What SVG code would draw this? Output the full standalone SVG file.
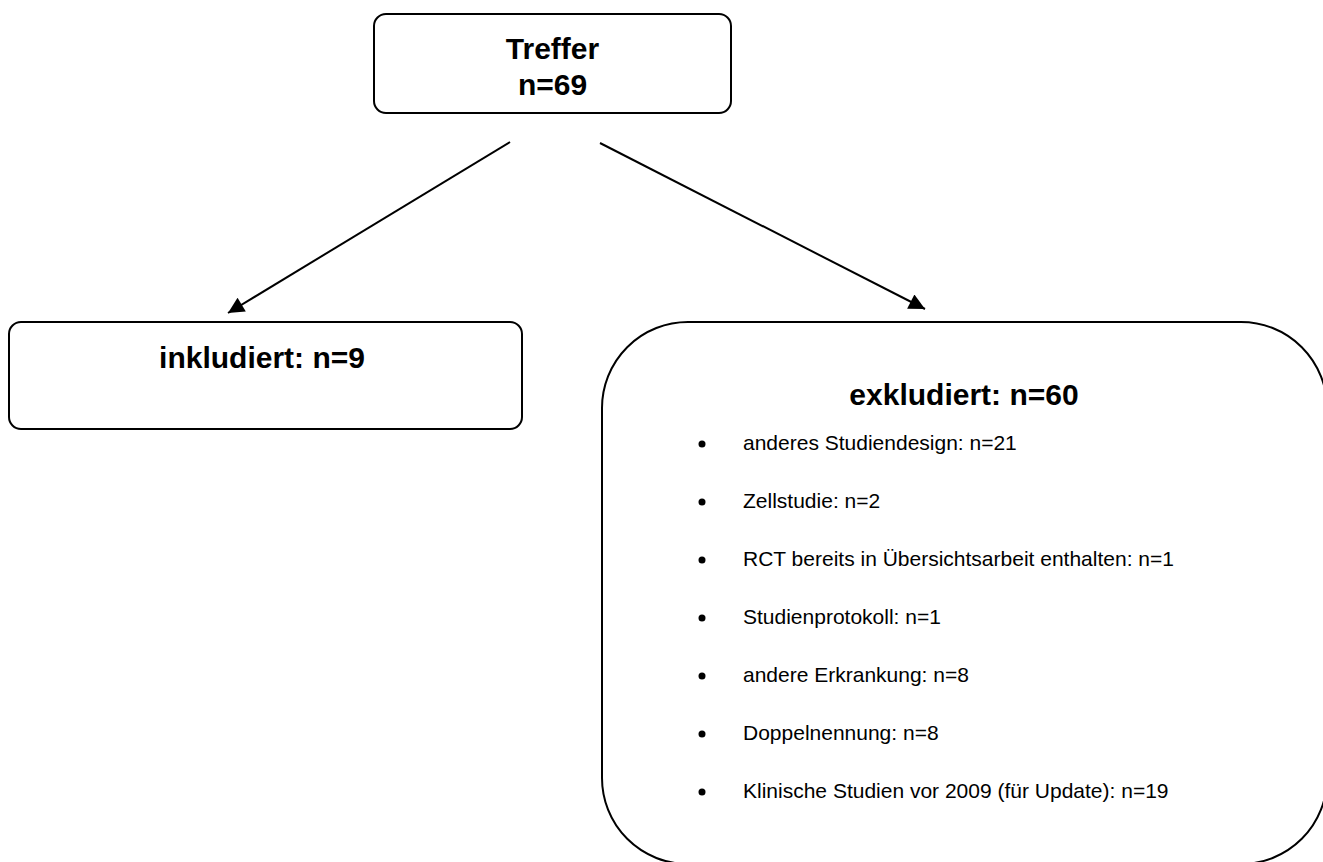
<svg xmlns="http://www.w3.org/2000/svg" width="1323" height="862" viewBox="0 0 1323 862">
<style>
.box{fill:#fff;stroke:#000;stroke-width:2}
.h{font-family:"Liberation Sans",Arial,sans-serif;font-weight:bold;font-size:30px;fill:#000;text-anchor:middle}
.t{font-family:"Liberation Sans",Arial,sans-serif;font-size:21px;fill:#000}
.conn{stroke:#000;stroke-width:2;fill:none;marker-end:url(#ah)}
</style>
<defs>
<marker id="ah" viewBox="0 0 10 10" refX="10" refY="5" markerWidth="10" markerHeight="8" markerUnits="strokeWidth" orient="auto">
<path d="M0,0 L10,5 L0,10 Z" fill="#000"/>
</marker>
</defs>
<rect width="1323" height="862" fill="#fff"/>
<g id="connectors">
<line class="conn" x1="510" y1="142" x2="228" y2="313"/>
<line class="conn" x1="600" y1="143" x2="925" y2="309"/>
</g>
<g id="treffer">
<rect class="box" x="374" y="14" width="357" height="99" rx="12"/>
<text class="h" x="552.5" y="59">Treffer</text>
<text class="h" x="552.5" y="95">n=69</text>
</g>
<g id="inkludiert">
<rect class="box" x="9" y="322" width="513" height="107" rx="12"/>
<text class="h" x="262" y="368">inkludiert: n=9</text>
</g>
<g id="exkludiert">
<rect class="box" x="602" y="322" width="725" height="542" rx="86"/>
<text class="h" x="964" y="405">exkludiert: n=60</text>
<g fill="#000">
<circle cx="702" cy="444" r="3.5"/>
<circle cx="702" cy="502" r="3.5"/>
<circle cx="702" cy="560" r="3.5"/>
<circle cx="702" cy="618" r="3.5"/>
<circle cx="702" cy="676" r="3.5"/>
<circle cx="702" cy="734" r="3.5"/>
<circle cx="702" cy="792" r="3.5"/>
</g>
<text class="t" x="743" y="450">anderes Studiendesign: n=21</text>
<text class="t" x="743" y="508">Zellstudie: n=2</text>
<text class="t" x="743" y="566">RCT bereits in Übersichtsarbeit enthalten: n=1</text>
<text class="t" x="743" y="624">Studienprotokoll: n=1</text>
<text class="t" x="743" y="682">andere Erkrankung: n=8</text>
<text class="t" x="743" y="740">Doppelnennung: n=8</text>
<text class="t" x="743" y="798">Klinische Studien vor 2009 (für Update): n=19</text>
</g>
</svg>
